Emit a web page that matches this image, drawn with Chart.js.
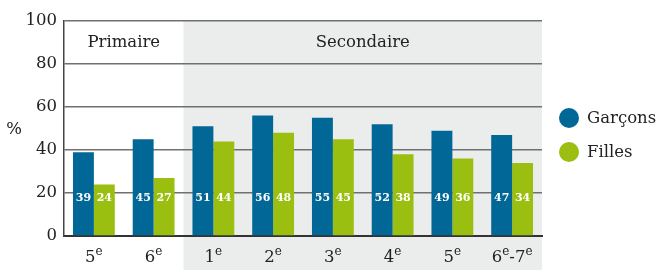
<!DOCTYPE html>
<html><head><meta charset="utf-8">
<script src="https://cdn.jsdelivr.net/npm/chart.js@4"></script>
<style>html,body{margin:0;padding:0;background:#fff;}#wrap{width:659px;height:270px;}</style>
</head><body><div id="wrap"><canvas id="c" width="659" height="270"></canvas></div>
<script>
const categories = ["5^e","6^e","1^e","2^e","3^e","4^e","5^e","6^e-7^e"];
const garcons = [39,45,51,56,55,52,49,47];
const filles = [24,27,44,48,45,38,36,34];
const yTicks = [0,20,40,60,80,100];
const seriesNames = ["Garçons","Filles"];
const seriesColors = ["#006797","#9bbf10"];
const groupNames = ["Primaire","Secondaire"];
const groupStarts = [0,2];
const yTitle = "%";

const FONT = "'DejaVu Serif', serif";
const TXT = "#222";
const FS = 16.5;

function drawSupLabel(ctx, text, cx, baseY, size){
  const parts = text.split(/\^(\w)/);
  const big = size + "px " + FONT, small = Math.round(size*0.7) + "px " + FONT;
  let w = 0;
  parts.forEach((p,i)=>{ ctx.font = i%2 ? small : big; w += ctx.measureText(p).width; });
  let x = cx - w/2;
  ctx.textAlign = "left"; ctx.textBaseline = "alphabetic"; ctx.fillStyle = TXT;
  parts.forEach((p,i)=>{
    ctx.font = i%2 ? small : big;
    ctx.fillText(p, x, i%2 ? baseY - size*0.45 : baseY);
    x += ctx.measureText(p).width;
  });
}

const deco = {
  id: "deco",
  beforeDraw(chart){
    const {ctx, chartArea:a, scales:{x}} = chart;
    ctx.save();
    const half = (x.getPixelForValue(1) - x.getPixelForValue(0))/2;
    const gx = x.getPixelForValue(groupStarts[1]) - half;
    ctx.fillStyle = "#ebecec";
    ctx.fillRect(gx, a.top, a.right - gx, chart.height - a.top);
    ctx.restore();
  },
  afterDatasetsDraw(chart){
    const {ctx, chartArea:a, scales:{x,y}} = chart;
    ctx.save();
    ctx.font = "bold 11px " + FONT;
    ctx.fillStyle = "#fff"; ctx.textAlign = "center"; ctx.textBaseline = "middle";
    chart.data.datasets.forEach((ds,di)=>{
      chart.getDatasetMeta(di).data.forEach((bar,i)=>{
        ctx.fillText(String(ds.data[i]), bar.x, y.getPixelForValue(0) - 38);
      });
    });
    const half = (x.getPixelForValue(1) - x.getPixelForValue(0))/2;
    ctx.font = FS + "px " + FONT; ctx.fillStyle = TXT;
    groupNames.forEach((g,gi)=>{
      const s = x.getPixelForValue(groupStarts[gi]) - half;
      const e = gi+1 < groupStarts.length ? x.getPixelForValue(groupStarts[gi+1]) - half : a.right;
      ctx.fillText(g, (s+e)/2, a.top + 22);
    });
    categories.forEach((c,i)=>drawSupLabel(ctx, c, x.getPixelForValue(i), a.bottom + 26, FS));
    ctx.font = FS + "px " + FONT; ctx.textAlign = "center"; ctx.textBaseline = "middle";
    ctx.fillStyle = TXT;
    ctx.fillText(yTitle, 14, (a.top + a.bottom)/2 + 1);
    seriesNames.forEach((n,i)=>{
      const cy = chart.height/2 - 17 + i*34;
      ctx.beginPath(); ctx.arc(a.right + 27, cy, 10, 0, Math.PI*2);
      ctx.fillStyle = seriesColors[i]; ctx.fill();
      ctx.fillStyle = TXT; ctx.textAlign = "left"; ctx.textBaseline = "middle";
      ctx.font = FS + "px " + FONT;
      ctx.fillText(n, a.right + 45, cy + 1);
    });
    ctx.restore();
  }
};

new Chart(document.getElementById("c"), {
  type: "bar",
  data: {
    labels: categories,
    datasets: seriesNames.map((n,i)=>({
      label: n, data: i===0 ? garcons : filles,
      backgroundColor: seriesColors[i], borderWidth: 0,
      barPercentage: 1.0, categoryPercentage: 0.7
    }))
  },
  options: {
    responsive: false, animation: false, devicePixelRatio: 1,
    layout: {padding: {left: 0, right: 117, top: 21, bottom: 0}},
    plugins: {legend: {display: false}, tooltip: {enabled: false}},
    scales: {
      x: {
        grid: {display: false},
        border: {display: true, color: "#333", width: 2},
        ticks: {display: false},
        afterFit(s){ s.height = 34; }
      },
      y: {
        min: 0, max: 100,
        afterBuildTicks(s){ s.ticks = yTicks.map(v=>({value:v})); },
        ticks: {font: {family: FONT, size: FS}, color: TXT, padding: 7},
        grid: {color: "#707070", lineWidth: 1.5, drawTicks: false},
        border: {display: true, color: "#444", width: 1.5},
        afterFit(s){ s.width = 64; }
      }
    }
  },
  plugins: [deco]
});
</script></body></html>
